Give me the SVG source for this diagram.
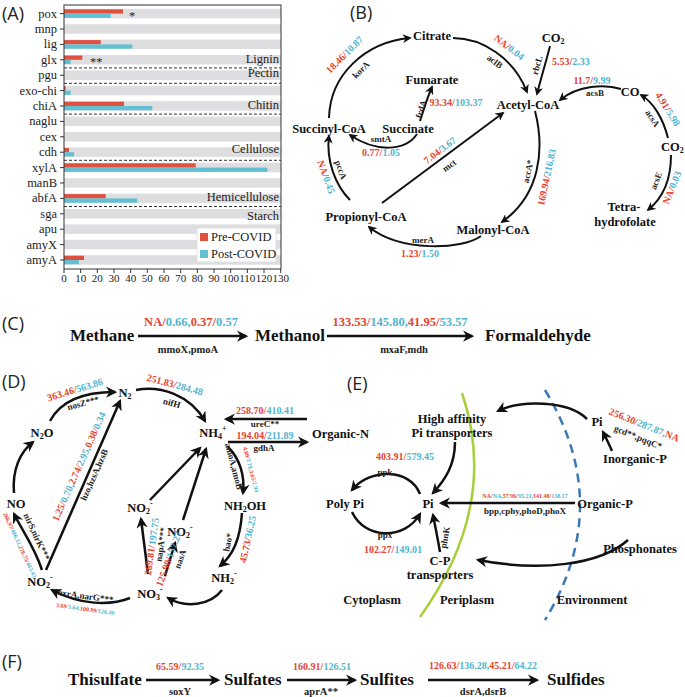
<svg xmlns="http://www.w3.org/2000/svg" width="685" height="697" viewBox="0 0 685 697">
<defs>
<marker id="ah" viewBox="0 0 10 10" refX="8" refY="5" markerWidth="4.5" markerHeight="4.5" orient="auto" markerUnits="strokeWidth">
<path d="M0,0 L10,5 L0,10 L3,5 z" fill="#111"/>
</marker>
</defs>
<style>
.pl{font-family:"Open Sans","Liberation Sans",sans-serif;font-size:18px;fill:#222}
.ax{font-family:"Liberation Serif",serif;font-size:12.5px;fill:#222}
.tk{font-family:"Liberation Serif",serif;font-size:11px;fill:#222}
.nd{font-family:"Liberation Serif",serif;font-weight:bold;font-size:12.5px;fill:#111}
.big{font-family:"Liberation Serif",serif;font-weight:bold;font-size:17px;fill:#111}
.gn{font-family:"Liberation Serif",serif;font-weight:bold;font-size:9px;fill:#222}
.gn2{font-family:"Liberation Serif",serif;font-weight:bold;font-size:10.5px;fill:#222}
.nm{font-family:"Liberation Serif",serif;font-weight:bold;font-size:10px}
.nm2{font-family:"Liberation Serif",serif;font-weight:bold;font-size:12.5px}
.tiny{font-family:"Liberation Serif",serif;font-weight:bold;font-size:6px}
.r{fill:#e8432e}
.c{fill:#4fb5d0}
.bg{fill:#dedde0}
.rb{fill:#e0503e}
.cb{fill:#63c0d3}
.ln{fill:none;stroke:#111;stroke-width:2;marker-end:url(#ah)}
.lt{fill:none;stroke:#111;stroke-width:2.5;marker-end:url(#ah)}
.dash{stroke:#333;stroke-width:1;stroke-dasharray:3,2}
.tick{stroke:#333;stroke-width:1}
</style>

<!-- Panel A -->
<g id="panelA">
<text class="pl" x="2" y="20">(A)</text>
<g id="bands">
<rect class="bg" x="64" y="8.8" width="217" height="9.5"/>
<rect class="bg" x="64" y="24.2" width="217" height="9.5"/>
<rect class="bg" x="64" y="39.6" width="217" height="9.5"/>
<rect class="bg" x="64" y="55" width="217" height="9.5"/>
<rect class="bg" x="64" y="70.4" width="217" height="9.5"/>
<rect class="bg" x="64" y="85.8" width="217" height="9.5"/>
<rect class="bg" x="64" y="101.2" width="217" height="9.5"/>
<rect class="bg" x="64" y="116.6" width="217" height="9.5"/>
<rect class="bg" x="64" y="132" width="217" height="9.5"/>
<rect class="bg" x="64" y="147.4" width="217" height="9.5"/>
<rect class="bg" x="64" y="162.8" width="217" height="9.5"/>
<rect class="bg" x="64" y="178.2" width="217" height="9.5"/>
<rect class="bg" x="64" y="193.6" width="217" height="9.5"/>
<rect class="bg" x="64" y="209" width="217" height="9.5"/>
<rect class="bg" x="64" y="224.4" width="217" height="9.5"/>
<rect class="bg" x="64" y="239.8" width="217" height="9.5"/>
<rect class="bg" x="64" y="255.2" width="217" height="9.5"/>
</g>
<g id="bars">
<rect class="rb" x="64" y="9.3" width="59" height="4.3"/>
<rect class="cb" x="64" y="13.6" width="46.7" height="4.3"/>
<rect class="rb" x="64" y="40.1" width="36.7" height="4.3"/>
<rect class="cb" x="64" y="44.4" width="68.3" height="4.3"/>
<rect class="rb" x="64" y="55.5" width="18.3" height="4.3"/>
<rect class="cb" x="64" y="59.8" width="6.7" height="4.3"/>
<rect class="rb" x="64" y="86.3" width="1.7" height="4.3"/>
<rect class="cb" x="64" y="90.6" width="6.7" height="4.3"/>
<rect class="rb" x="64" y="101.7" width="60" height="4.3"/>
<rect class="cb" x="64" y="106" width="88.3" height="4.3"/>
<rect class="rb" x="64" y="147.9" width="5" height="4.3"/>
<rect class="cb" x="64" y="152.2" width="10" height="4.3"/>
<rect class="rb" x="64" y="163.3" width="131.7" height="4.3"/>
<rect class="cb" x="64" y="167.6" width="203.4" height="4.3"/>
<rect class="rb" x="64" y="194.1" width="41.7" height="4.3"/>
<rect class="cb" x="64" y="198.4" width="73.3" height="4.3"/>
<rect class="rb" x="64" y="255.7" width="20" height="4.3"/>
<rect class="cb" x="64" y="260" width="15" height="4.3"/>
</g>
<g id="separators">
<line class="dash" x1="64" y1="67.9" x2="281" y2="67.9"/>
<line class="dash" x1="64" y1="83.3" x2="281" y2="83.3"/>
<line class="dash" x1="64" y1="114.1" x2="281" y2="114.1"/>
<line class="dash" x1="64" y1="160.3" x2="281" y2="160.3"/>
<line class="dash" x1="64" y1="206.5" x2="281" y2="206.5"/>
</g>
<rect x="64" y="5" width="217" height="264" fill="none" stroke="#333" stroke-width="1"/>
<g id="rowlabels" class="ax" text-anchor="end">
<text x="57" y="17.5">pox</text>
<text x="57" y="32.9">mnp</text>
<text x="57" y="48.3">lig</text>
<text x="57" y="63.7">glx</text>
<text x="57" y="79.1">pgu</text>
<text x="57" y="94.5">exo-chi</text>
<text x="57" y="109.9">chiA</text>
<text x="57" y="125.3">naglu</text>
<text x="57" y="140.7">cex</text>
<text x="57" y="156.1">cdh</text>
<text x="57" y="171.5">xylA</text>
<text x="57" y="186.9">manB</text>
<text x="57" y="202.3">abfA</text>
<text x="57" y="217.7">sga</text>
<text x="57" y="233.1">apu</text>
<text x="57" y="248.5">amyX</text>
<text x="57" y="263.9">amyA</text>
</g>
<path class="tick" d="M60,13.6H64M60,29H64M60,44.4H64M60,59.8H64M60,75.2H64M60,90.6H64M60,106H64M60,121.4H64M60,136.8H64M60,152.2H64M60,167.6H64M60,183H64M60,198.4H64M60,213.8H64M60,229.2H64M60,244.6H64M60,260H64"/>
<path class="tick" d="M64,269V273M80.67,269V273M97.33,269V273M114,269V273M130.67,269V273M147.33,269V273M164,269V273M180.67,269V273M197.33,269V273M214,269V273M230.67,269V273M247.33,269V273M264,269V273M280.67,269V273"/>
<g class="tk" text-anchor="middle">
<text x="64" y="282">0</text><text x="80.67" y="282">10</text><text x="97.33" y="282">20</text><text x="114" y="282">30</text><text x="130.67" y="282">40</text><text x="147.33" y="282">50</text><text x="164" y="282">60</text><text x="180.67" y="282">70</text><text x="197.33" y="282">80</text><text x="214" y="282">90</text><text x="230.67" y="282">100</text><text x="247.33" y="282">110</text><text x="264" y="282">120</text><text x="280.67" y="282">130</text>
</g>
<g class="ax" text-anchor="end" font-size="12">
<text x="279" y="63">Lignin</text>
<text x="279" y="77">Pectin</text>
<text x="279" y="109">Chitin</text>
<text x="279" y="153">Cellulose</text>
<text x="279" y="201">Hemicellulose</text>
<text x="279" y="220">Starch</text>
</g>
<text class="ax" x="129" y="20">*</text>
<text class="ax" x="90" y="66">**</text>
<g id="legend">
<rect x="197" y="228" width="79" height="34" fill="#fff" stroke="#ddd" stroke-width="0.8"/>
<rect class="rb" x="200" y="233" width="8" height="8"/>
<text class="ax" x="211" y="241">Pre-COVID</text>
<rect class="cb" x="200" y="250" width="8" height="8"/>
<text class="ax" x="211" y="258">Post-COVID</text>
</g>
</g>

<!-- Panel B -->
<text class="pl" x="350" y="19">(B)</text>
<g id="b-nodes" class="nd" text-anchor="middle">
<g id="citrate"><text x="432" y="40">Citrate</text></g>
<g id="fumarate"><text x="432" y="84">Fumarate</text></g>
<g id="succinylcoa"><text x="329" y="133">Succinyl-CoA</text></g>
<g id="succinate"><text x="408" y="133">Succinate</text></g>
<g id="acetylcoa"><text x="528" y="109">Acetyl-CoA</text></g>
<g id="co2a"><text x="553" y="42">CO<tspan font-size="8" dy="2">2</tspan></text></g>
<g id="co"><text x="630" y="96">CO</text></g>
<g id="co2b"><text x="661" y="151" text-anchor="start">CO<tspan font-size="8" dy="2">2</tspan></text></g>
<g id="thf"><text x="624" y="211">Tetra-</text><text x="625" y="226">hydrofolate</text></g>
<g id="propionylcoa"><text x="366" y="221">Propionyl-CoA</text></g>
<g id="malonylcoa"><text x="493" y="234">Malonyl-CoA</text></g>
</g>
<g id="b-edges">
<path class="ln" d="M329,118 C330,75 365,42 410,38"/>
<path class="ln" d="M453,38 C482,38 514,58 527,92"/>
<path class="ln" d="M550,46 C546,62 541,78 537,94"/>
<path class="ln" d="M621,89 C605,84 578,85 560,100"/>
<path class="ln" d="M668,138 C663,118 653,102 641,95"/>
<path class="ln" d="M671,155 C671,180 663,198 648,210"/>
<path class="ln" d="M535,111 C545,150 540,195 502,222"/>
<path class="ln" d="M481,236 C462,250 400,252 369,227"/>
<path class="ln" d="M350,200 C335,185 326,160 329,136"/>
<path class="ln" d="M382,203 L503,113"/>
<path class="ln" d="M420,121 C425,105 428,96 432,87"/>
<path class="ln" d="M417,134 C405,152 375,152 350,135"/>
</g>
<g id="b-labels">
<text class="nm" text-anchor="middle" transform="translate(347,57) rotate(-45)"><tspan class="r">18.46/</tspan><tspan class="c">10.87</tspan></text>
<text class="gn" text-anchor="middle" transform="translate(363,72) rotate(-45)">korA</text>
<text class="nm" text-anchor="middle" transform="translate(507,50) rotate(37)"><tspan class="r">NA/</tspan><tspan class="c">0.04</tspan></text>
<text class="gn" text-anchor="middle" transform="translate(493,64) rotate(37)">aclB</text>
<text class="gn" text-anchor="middle" transform="translate(540,66) rotate(-74)">rbcL</text>
<text class="nm" x="552" y="65"><tspan class="r">5.53/</tspan><tspan class="c">2.33</tspan></text>
<text class="nm" x="592" y="84" text-anchor="middle"><tspan class="r">11.7/</tspan><tspan class="c">9.99</tspan></text>
<text class="gn" x="595" y="96" text-anchor="middle">acsB</text>
<text class="nm" text-anchor="middle" transform="translate(665,111) rotate(58)"><tspan class="r">4.91/</tspan><tspan class="c">5.98</tspan></text>
<text class="gn" text-anchor="middle" transform="translate(650,120) rotate(58)">acsA</text>
<text class="gn" text-anchor="middle" transform="translate(659,182) rotate(-68)">acsE</text>
<text class="nm" text-anchor="middle" transform="translate(675,189) rotate(-68)"><tspan class="r">NA/</tspan><tspan class="c">0.03</tspan></text>
<text class="gn" text-anchor="middle" transform="translate(531,172) rotate(-78)">accA*</text>
<text class="nm" text-anchor="middle" transform="translate(550,178) rotate(-78)"><tspan class="r">169.94/</tspan><tspan class="c">216.83</tspan></text>
<text class="gn" x="423" y="243" text-anchor="middle">merA</text>
<text class="nm" x="420" y="257" text-anchor="middle"><tspan class="r">1.23/</tspan><tspan class="c">1.50</tspan></text>
<text class="gn" text-anchor="middle" transform="translate(338,171) rotate(70)">pccA</text>
<text class="nm" text-anchor="middle" transform="translate(323,178) rotate(70)"><tspan class="r">NA/</tspan><tspan class="c">0.45</tspan></text>
<text class="nm" text-anchor="middle" transform="translate(442,153) rotate(-37)"><tspan class="r">7.04/</tspan><tspan class="c">3.67</tspan></text>
<text class="gn" text-anchor="middle" transform="translate(451,168) rotate(-37)">mct</text>
<text class="gn" text-anchor="middle" transform="translate(424,110) rotate(-72)">frdA</text>
<text class="nm" x="456" y="106" text-anchor="middle"><tspan class="r">93.34/</tspan><tspan class="c">103.37</tspan></text>
<text class="gn" x="381" y="142" text-anchor="middle">smtA</text>
<text class="nm" x="381" y="156" text-anchor="middle"><tspan class="r">0.77/</tspan><tspan class="c">1.05</tspan></text>
</g>

<!-- Panel C -->
<text class="pl" x="2" y="330">(C)</text>
<g id="c-nodes" class="big">
<g id="methane"><text x="70" y="341">Methane</text></g>
<g id="methanol"><text x="255" y="341">Methanol</text></g>
<g id="formaldehyde"><text x="485" y="341">Formaldehyde</text></g>
</g>
<g id="c-edges">
<path class="lt" d="M138,336 L246,336"/>
<path class="lt" d="M327,336 L472,336"/>
</g>
<g id="c-labels" text-anchor="middle">
<text class="nm2" x="191" y="326"><tspan class="r">NA/</tspan><tspan class="c">0.66,</tspan><tspan class="r">0.37/</tspan><tspan class="c">0.57</tspan></text>
<text class="gn2" x="188" y="353">mmoX,pmoA</text>
<text class="nm2" x="400" y="326"><tspan class="r">133.53/</tspan><tspan class="c">145.80,</tspan><tspan class="r">41.95/</tspan><tspan class="c">53.57</tspan></text>
<text class="gn2" x="404" y="353">mxaF,mdh</text>
</g>

<!-- Panel D -->
<text class="pl" x="2" y="388">(D)</text>
<g id="d-nodes" class="nd" text-anchor="middle" font-size="13">
<g id="n2"><text x="125" y="397">N<tspan font-size="8" dy="2">2</tspan></text></g>
<g id="n2o"><text x="42" y="437">N<tspan font-size="8" dy="2">2</tspan><tspan dy="-2">O</tspan></text></g>
<g id="no"><text x="16" y="508">NO</text></g>
<g id="nh4"><text x="213" y="437">NH<tspan font-size="8" dy="2">4</tspan><tspan font-size="8" dy="-8">+</tspan></text></g>
<g id="organicn"><text x="312" y="438" text-anchor="start">Organic-N</text></g>
<g id="nh2oh"><text x="245" y="510">NH<tspan font-size="8" dy="2">2</tspan><tspan dy="-2">OH</tspan></text></g>
<g id="no2a"><text x="140" y="512">NO<tspan font-size="8" dy="2">2</tspan><tspan font-size="8" dy="-8">-</tspan></text></g>
<g id="no2b"><text x="180" y="536">NO<tspan font-size="8" dy="2">2</tspan><tspan font-size="8" dy="-8">-</tspan></text></g>
<g id="no2c"><text x="40" y="586">NO<tspan font-size="8" dy="2">2</tspan><tspan font-size="8" dy="-8">-</tspan></text></g>
<g id="no3"><text x="150" y="598">NO<tspan font-size="8" dy="2">3</tspan><tspan font-size="8" dy="-8">-</tspan></text></g>
<g id="nh2"><text x="224" y="582">NH<tspan font-size="8" dy="2">2</tspan><tspan font-size="8" dy="-8">-</tspan></text></g>
</g>
<g id="d-edges">
<path class="lt" d="M50,421 C62,398 90,392 115,392"/>
<path class="lt" d="M14,493 C12,470 20,452 33,442"/>
<path class="lt" d="M42,570 C35,548 22,530 14,514"/>
<path class="lt" d="M46,570 L120,401"/>
<path class="lt" d="M136,390 C160,385 190,395 205,421"/>
<path class="lt" d="M307,419 L226,419"/>
<path class="lt" d="M228,442 L307,442"/>
<path class="lt" d="M228,447 C240,459 245,476 243,493"/>
<path class="lt" d="M242,513 C240,540 233,555 220,566"/>
<path class="lt" d="M150,500 L200,448"/>
<path class="lt" d="M183,520 L206,449"/>
<path class="lt" d="M148,574 L141,519"/>
<path class="lt" d="M165,576 L175,543"/>
<path class="lt" d="M222,590 C210,606 185,608 168,598"/>
<path class="lt" d="M130,598 C110,606 80,605 52,590"/>
</g>
<g id="d-labels">
<text class="nm" text-anchor="middle" transform="translate(76,393) rotate(-17)"><tspan class="r">363.46/</tspan><tspan class="c">563.86</tspan></text>
<text class="gn" text-anchor="middle" transform="translate(84,406) rotate(-15)">nosZ***</text>
<text class="nm" text-anchor="middle" transform="translate(174,388) rotate(15)"><tspan class="r">251.83/</tspan><tspan class="c">284.48</tspan></text>
<text class="gn" text-anchor="middle" transform="translate(171,406) rotate(15)">nifH</text>
<text class="nm" text-anchor="middle" transform="translate(82,468) rotate(-66)"><tspan class="r">1.25/</tspan><tspan class="c">0.70,</tspan><tspan class="r">2.74/</tspan><tspan class="c">2.95,</tspan><tspan class="r">0.38/</tspan><tspan class="c">0.34</tspan></text>
<text class="gn" text-anchor="middle" transform="translate(97,476) rotate(-66)">hzo,hzsA,hzsB</text>
<text class="gn" text-anchor="middle" transform="translate(34,538) rotate(65)">nirS,nirK***</text>
<text class="tiny" text-anchor="middle" transform="translate(18,546) rotate(65)"><tspan class="r">266.97/</tspan><tspan class="c">486.12,</tspan><tspan class="r">278.75/</tspan><tspan class="c">443.43</tspan></text>
<text class="nm" x="265" y="414" text-anchor="middle"><tspan class="r">258.70/</tspan><tspan class="c">410.41</tspan></text>
<text class="gn" x="265" y="427" text-anchor="middle">ureC**</text>
<text class="nm" x="265" y="438.5" text-anchor="middle"><tspan class="r">194.04/</tspan><tspan class="c">211.89</tspan></text>
<text class="gn" x="264" y="451" text-anchor="middle">gdhA</text>
<text class="gn" text-anchor="middle" transform="translate(231,467) rotate(75)">amoA,amoB</text>
<text class="tiny" text-anchor="middle" transform="translate(249,470) rotate(75)"><tspan class="r">4.80/</tspan><tspan class="c">7.78,</tspan><tspan class="r">3.65/</tspan><tspan class="c">2.94</tspan></text>
<text class="gn" text-anchor="middle" transform="translate(231,543) rotate(-78)">hao*</text>
<text class="nm" text-anchor="middle" transform="translate(251,540) rotate(-78)"><tspan class="r">45.73/</tspan><tspan class="c">36.25</tspan></text>
<text class="nm" text-anchor="middle" transform="translate(155,547) rotate(-82)"><tspan class="r">269.81/</tspan><tspan class="c">197.75</tspan></text>
<text class="gn" text-anchor="middle" transform="translate(164,545) rotate(-82)">napA***</text>
<text class="nm" text-anchor="middle" transform="translate(172,560) rotate(-70)"><tspan class="r">125.90/</tspan><tspan class="c">157.27</tspan></text>
<text class="gn" text-anchor="middle" transform="translate(183,560) rotate(-70)">nasA</text>
<text class="gn" text-anchor="middle" transform="translate(85,599) rotate(8)">nxrA,narG***</text>
<text class="tiny" text-anchor="middle" transform="translate(85,611) rotate(8)"><tspan class="r">3.69/</tspan><tspan class="c">1.64,</tspan><tspan class="r">100.99/</tspan><tspan class="c">126.49</tspan></text>
</g>

<!-- Panel E -->
<text class="pl" x="347" y="390">(E)</text>
<g id="e-membranes">
<path d="M462,393 Q500,505 420,617" fill="none" stroke="#a8cf3a" stroke-width="2.5"/>
<path d="M545,390 Q615,505 545,620" fill="none" stroke="#3a78b8" stroke-width="2.5" stroke-dasharray="9,6"/>
</g>
<g id="e-nodes" class="nd" text-anchor="middle">
<g id="pi-env"><text x="597" y="426">Pi</text></g>
<g id="inorganicp"><text x="635" y="463">Inorganic-P</text></g>
<g id="hapt"><text x="452" y="423">High affinity</text><text x="452" y="437">Pi transporters</text></g>
<g id="polypi"><text x="345" y="508">Poly Pi</text></g>
<g id="pi-cyt"><text x="428" y="508">Pi</text></g>
<g id="organicp"><text x="605" y="508">Organic-P</text></g>
<g id="phosphonates"><text x="640" y="553">Phosphonates</text></g>
<g id="cpt"><text x="440" y="565">C-P</text><text x="440" y="579">transporters</text></g>
<g id="cytoplasm"><text x="372" y="604">Cytoplasm</text></g>
<g id="periplasm"><text x="467" y="604">Periplasm</text></g>
<g id="environment"><text x="592" y="604">Environment</text></g>
</g>
<g id="e-edges">
<path class="lt" d="M612,451 C609,444 606,438 603,432"/>
<path class="lt" d="M587,419 C568,400 520,400 498,411"/>
<path class="lt" d="M455,442 C455,465 445,480 433,493"/>
<path class="lt" d="M420,494 C410,468 370,468 352,490"/>
<path class="lt" d="M352,512 C365,540 405,540 420,514"/>
<path class="lt" d="M575,503 L441,503"/>
<path class="lt" d="M628,540 C600,565 540,572 478,560"/>
<path class="lt" d="M440,552 C438,540 436,530 433,515"/>
</g>
<g id="e-labels">
<text class="nm" text-anchor="middle" transform="translate(643,428) rotate(22)"><tspan class="r">256.30/</tspan><tspan class="c">287.87,</tspan><tspan class="r">NA</tspan></text>
<text class="gn" text-anchor="middle" transform="translate(637,440) rotate(22)">gcd**,pqqC*</text>
<text class="nm" x="405" y="460" text-anchor="middle"><tspan class="r">403.91/</tspan><tspan class="c">579.45</tspan></text>
<text class="gn" x="385" y="475" text-anchor="middle">ppk</text>
<text class="gn" x="385" y="538" text-anchor="middle">ppx</text>
<text class="nm" x="393" y="553" text-anchor="middle"><tspan class="r">102.27/</tspan><tspan class="c">149.01</tspan></text>
<text class="tiny" x="525" y="498" text-anchor="middle"><tspan class="r">NA/</tspan><tspan class="c">NA,</tspan><tspan class="r">57.96/</tspan><tspan class="c">95.21,</tspan><tspan class="r">141.48/</tspan><tspan class="c">138.17</tspan></text>
<text class="gn" x="525" y="514" text-anchor="middle">bpp,cphy,phoD,phoX</text>
<text class="gn" text-anchor="middle" transform="translate(448,538) rotate(-80)">phnK</text>
</g>

<!-- Panel F -->
<text class="pl" x="2" y="668">(F)</text>
<g id="f-nodes" class="big">
<g id="thiosulfate"><text x="68" y="685">Thisulfate</text></g>
<g id="sulfates"><text x="224" y="685">Sulfates</text></g>
<g id="sulfites"><text x="360" y="685">Sulfites</text></g>
<g id="sulfides"><text x="547" y="685">Sulfides</text></g>
</g>
<g id="f-edges">
<path class="lt" d="M146,680 L218,680"/>
<path class="lt" d="M287,680 L355,680"/>
<path class="lt" d="M428,680 L537,680"/>
</g>
<g id="f-labels" text-anchor="middle">
<text class="nm" font-size="13" x="180" y="670"><tspan class="r">65.59/</tspan><tspan class="c">92.35</tspan></text>
<text class="gn2" x="180" y="695">soxY</text>
<text class="nm" font-size="13" x="322" y="670"><tspan class="r">160.91/</tspan><tspan class="c">126.51</tspan></text>
<text class="gn2" x="321" y="695">aprA**</text>
<text class="nm" font-size="8.5" x="483" y="669"><tspan class="r">126.63/</tspan><tspan class="c">136.28,</tspan><tspan class="r">45.21/</tspan><tspan class="c">64.22</tspan></text>
<text class="gn2" x="483" y="695">dsrA,dsrB</text>
</g>
</svg>
